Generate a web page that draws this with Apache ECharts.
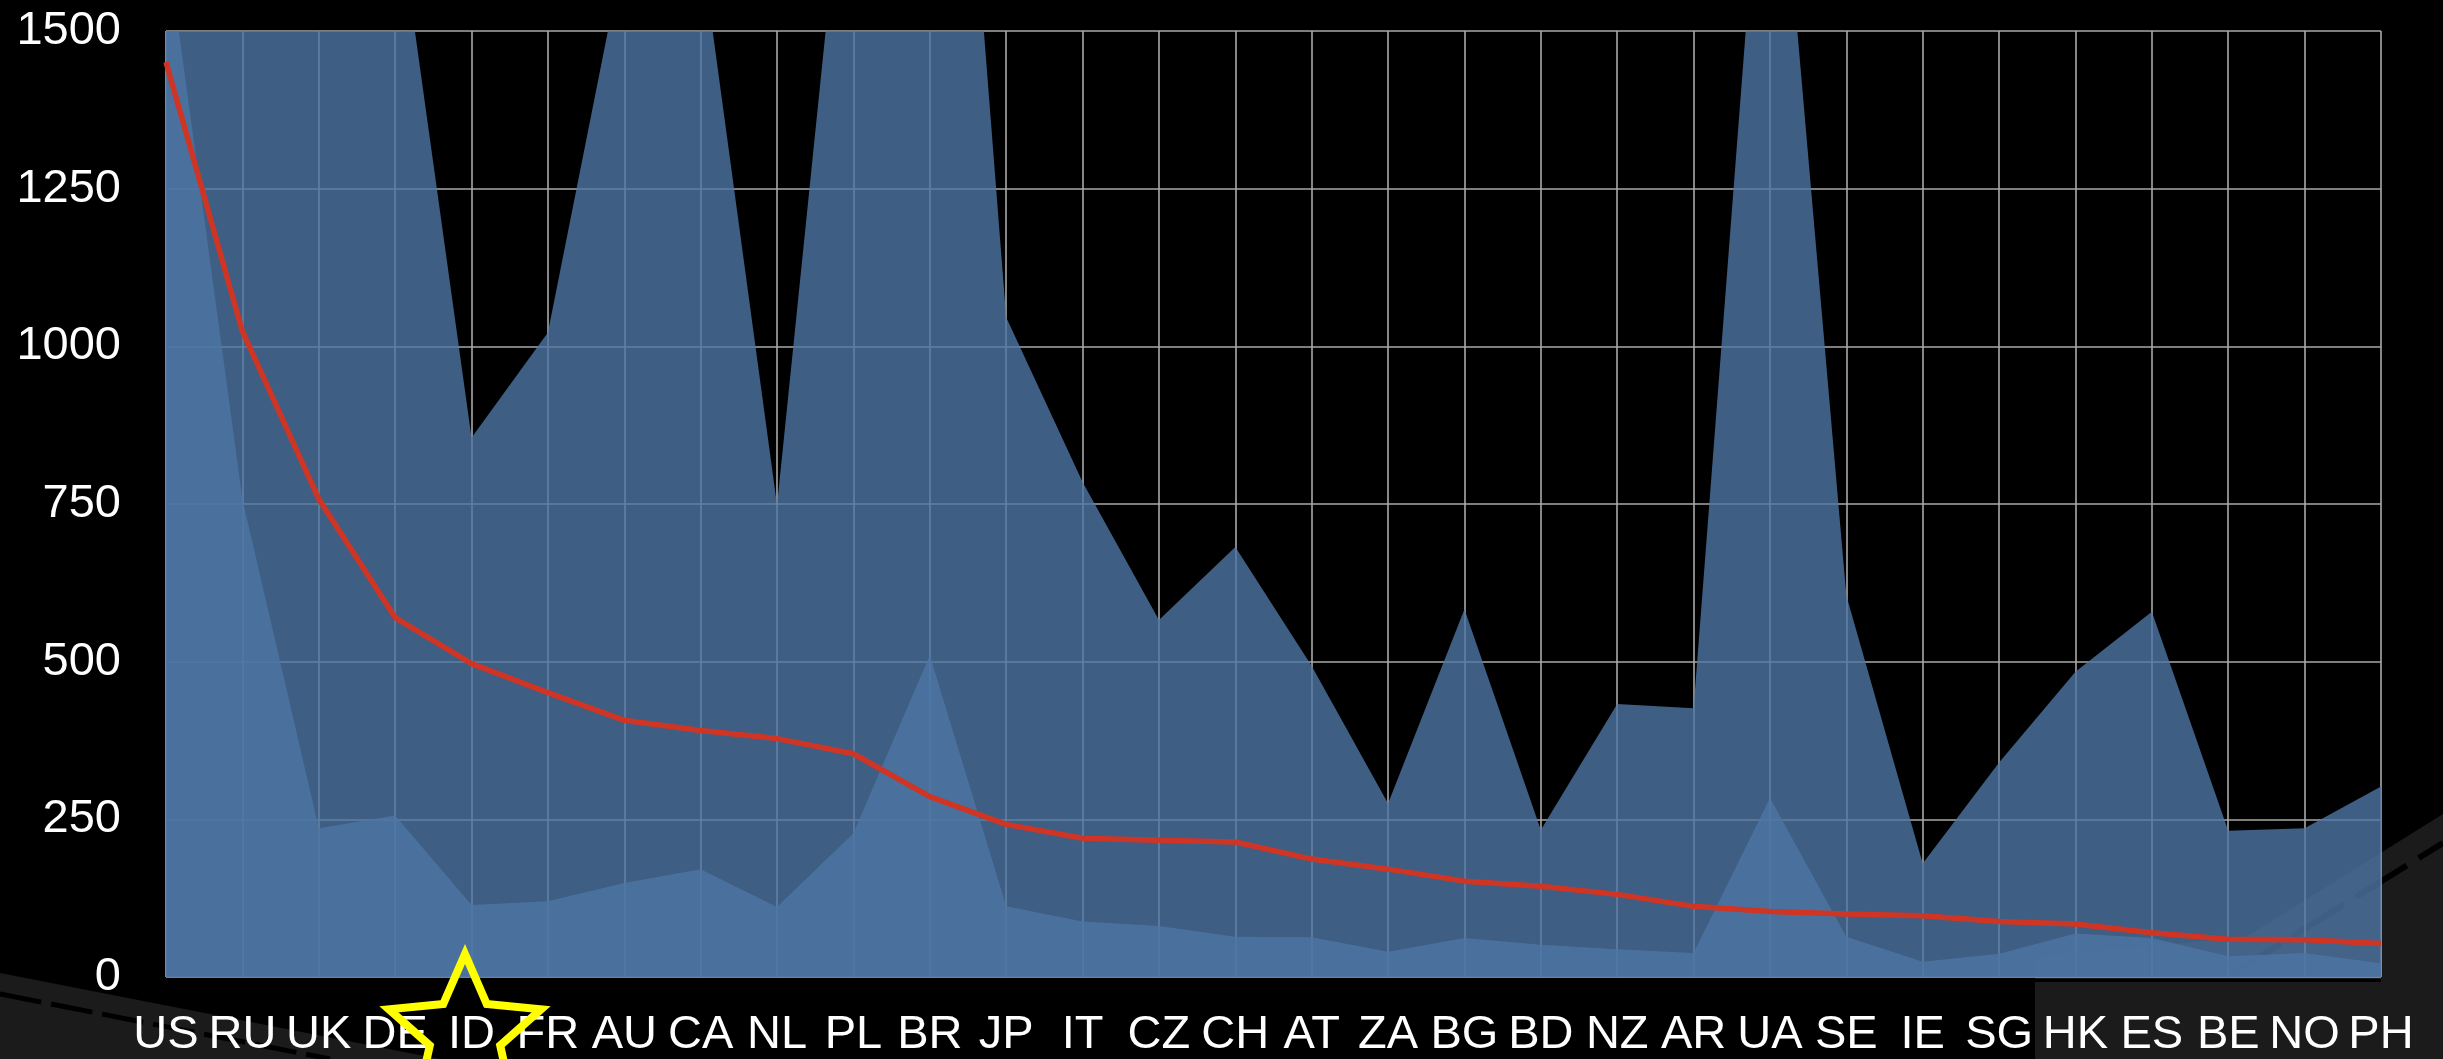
<!DOCTYPE html>
<html>
<head>
<meta charset="utf-8">
<title>Country chart</title>
<script src="https://cdn.jsdelivr.net/npm/echarts@6.0.0/dist/echarts.min.js"></script>
<style>
  html, body { margin: 0; padding: 0; background: #000; }
  #chart { width: 2443px; height: 1059px; }
</style>
</head>
<body>
<div id="chart"></div>
<script>
const countries = ['US', 'RU', 'UK', 'DE', 'ID', 'FR', 'AU', 'CA', 'NL', 'PL',
  'BR', 'JP', 'IT', 'CZ', 'CH', 'AT', 'ZA', 'BG', 'BD', 'NZ',
  'AR', 'UA', 'SE', 'IE', 'SG', 'HK', 'ES', 'BE', 'NO', 'PH'];

// tall area (clipped at the top of the axis)
const upperValues = [2400, 2200, 2000, 1725, 855, 1022, 1630, 1640, 748, 1930,
  2600, 1046, 785, 566, 682, 493, 275, 583, 233, 433,
  426, 2000, 605, 180, 340, 484, 579, 232, 236, 302];

// lower area
const lowerValues = [1650, 758, 236, 256, 114, 120, 149, 171, 111, 228,
  510, 112, 88, 81, 64, 63, 40, 62, 51, 44,
  38, 284, 64, 24, 37, 69, 62, 33, 38, 22];

// red line
const lineValues = [1451, 1024, 758, 570, 497, 451, 407, 391, 378, 354,
  286, 242, 220, 217, 214, 187, 171, 152, 144, 131,
  112, 104, 100, 97, 88, 84, 70, 60, 59, 53];

const yTicks = [0, 250, 500, 750, 1000, 1250, 1500];

const font = 'Liberation Sans, Arial, Helvetica, sans-serif';
const gridColor = '#a9a9a9';
const areaColor = '#4e75a4';

// five-pointed star outline (decoration near the ID label)
function starPoints(cx, cy, R, r) {
  const pts = [];
  for (let i = 0; i < 10; i++) {
    const rad = i % 2 === 0 ? R : r;
    const a = Math.PI * i / 5;
    pts.push([cx + rad * Math.sin(a), cy - rad * Math.cos(a)]);
  }
  return pts;
}

const chart = echarts.init(document.getElementById('chart'));

const option = {
  backgroundColor: '#000',
  animation: false,
  textStyle: { fontFamily: font },
  grid: { left: 166, right: 62, top: 31, bottom: 80, containLabel: false },
  graphic: {
    elements: [
      // dark backdrop shapes
      {
        type: 'polygon', z: -10, silent: true,
        shape: { points: [[0, 973], [440, 1059], [0, 1059]] },
        style: { fill: '#1b1b1b' }
      },
      {
        type: 'polyline', z: -9, silent: true,
        shape: { points: [[0, 994], [330, 1059]] },
        style: { stroke: '#000', lineWidth: 5, lineDash: [42, 10] }
      },
      {
        type: 'polygon', z: -10, silent: true,
        shape: { points: [[2035, 957], [2246, 937], [2443, 814], [2443, 1059], [2035, 1059]] },
        style: { fill: '#1b1b1b' }
      },
      {
        type: 'polyline', z: -9, silent: true,
        shape: { points: [[2230, 975], [2443, 843]] },
        style: { stroke: '#000', lineWidth: 6, lineDash: [60, 14] }
      },
      {
        type: 'rect', z: -9, silent: true,
        shape: { x: 2035, y: 979, width: 346, height: 3 },
        style: { fill: '#000' }
      },
      // yellow star
      {
        type: 'polygon', z: 100, silent: true,
        shape: { points: starPoints(465, 1034, 80, 37) },
        style: { fill: 'none', stroke: '#ffff00', lineWidth: 8, lineJoin: 'miter' }
      }
    ]
  },
  xAxis: {
    type: 'category',
    data: countries,
    boundaryGap: false,
    axisLine: { show: false },
    axisTick: { show: false },
    axisLabel: {
      interval: 0,
      color: '#fff',
      fontSize: 47,
      fontFamily: font,
      margin: 35
    },
    splitLine: { show: true, lineStyle: { color: gridColor, width: 1.6 } }
  },
  yAxis: {
    type: 'value',
    min: 0,
    max: 1500,
    interval: 250,
    axisLine: { show: false },
    axisTick: { show: false },
    axisLabel: {
      color: '#fff',
      fontSize: 47,
      fontFamily: font,
      margin: 45,
      padding: [11, 0, 0, 0],
      formatter: v => (yTicks.includes(v) ? String(v) : '')
    },
    splitLine: { show: true, lineStyle: { color: gridColor, width: 1.6 } }
  },
  series: [
    {
      name: 'upper',
      type: 'line',
      data: upperValues,
      showSymbol: false,
      clip: true,
      lineStyle: { width: 0 },
      areaStyle: { color: areaColor, opacity: 0.8 },
      z: 2
    },
    {
      name: 'lower',
      type: 'line',
      data: lowerValues,
      showSymbol: false,
      clip: true,
      lineStyle: { width: 0 },
      areaStyle: { color: areaColor, opacity: 0.8 },
      z: 3
    },
    {
      name: 'line',
      type: 'line',
      data: lineValues,
      showSymbol: false,
      clip: true,
      lineStyle: { color: '#cf3525', width: 5.5 },
      z: 5
    }
  ]
};

chart.setOption(option);
</script>
</body>
</html>
